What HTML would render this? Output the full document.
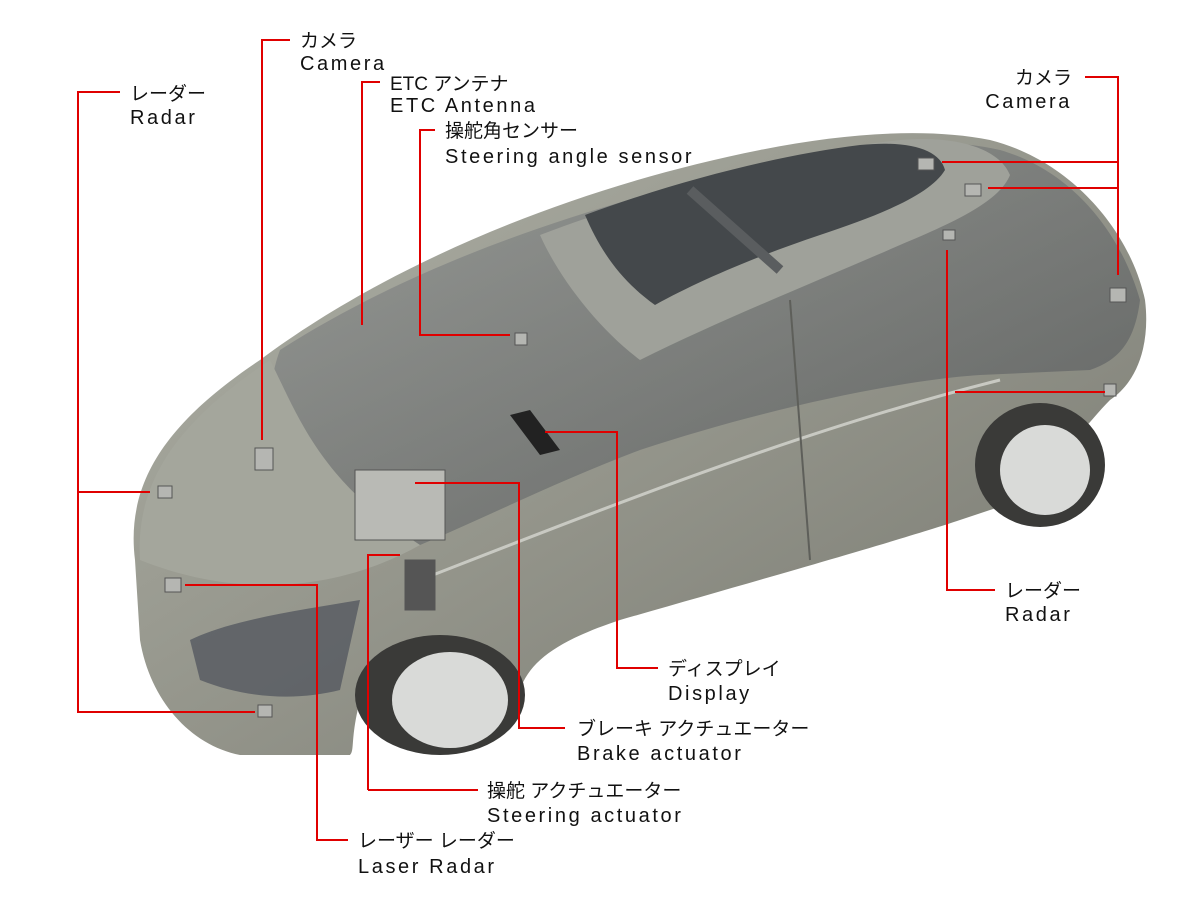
<!DOCTYPE html>
<html><head><meta charset="utf-8"><style>
body{margin:0;background:#fff;}
svg{display:block}
text{font-family:"Liberation Sans","Noto Sans CJK JP",sans-serif;font-size:20px;fill:#111;letter-spacing:2.6px}
text.j{letter-spacing:0px;font-size:19px}
</style></head><body>
<svg width="1200" height="900" viewBox="0 0 1200 900" xmlns="http://www.w3.org/2000/svg">
<defs>
<linearGradient id="body" x1="0" y1="0" x2="1" y2="1">
<stop offset="0" stop-color="#b0b2a8"/><stop offset="0.5" stop-color="#94958b"/><stop offset="1" stop-color="#76776f"/>
</linearGradient>
<linearGradient id="glass" x1="0" y1="0" x2="1" y2="1">
<stop offset="0" stop-color="#8f9291"/><stop offset="1" stop-color="#515456"/>
</linearGradient>
</defs>
<path d="M135,560 C125,480 170,420 260,360 C380,270 560,190 760,150 C850,132 930,128 990,140 C1070,160 1130,230 1145,300 C1150,340 1140,380 1110,400 C1090,420 1060,460 1020,500 L960,520 C900,540 760,580 620,620 C560,640 530,660 520,690 L360,700 C350,740 355,750 350,755 L240,755 C190,745 150,700 140,640 Z" fill="url(#body)"/>
<path d="M280,350 C420,260 600,200 790,160 C880,140 950,138 1000,150 C1070,170 1120,230 1140,300 C1135,340 1120,360 1090,370 L980,375 C900,380 760,410 640,450 C560,480 480,520 420,545 C370,520 320,490 290,470 C270,430 265,390 280,350 Z" fill="url(#glass)" opacity="0.7"/>
<path d="M540,235 C660,190 800,150 900,140 C960,135 1000,150 1010,175 C1000,200 960,220 900,245 C820,280 720,320 640,360 C600,330 560,280 540,235 Z" fill="#9fa19a"/>
<path d="M585,215 C680,180 780,155 860,145 C910,140 940,150 945,170 C930,195 880,215 820,235 C760,255 700,280 655,305 C620,280 600,250 585,215 Z" fill="#44484b"/>
<line x1="690" y1="190" x2="780" y2="270" stroke="#5a5d5f" stroke-width="10"/>
<path d="M140,560 C135,480 180,420 270,360 C300,420 320,480 420,545 C340,590 240,600 140,560 Z" fill="#a4a69c"/>
<path d="M190,640 C230,620 300,610 360,600 L340,690 C300,700 250,700 200,680 Z" fill="#555960" opacity="0.8"/>
<ellipse cx="440" cy="695" rx="85" ry="60" fill="#3a3a38"/>
<ellipse cx="450" cy="700" rx="58" ry="48" fill="#d9dad8"/>
<ellipse cx="1040" cy="465" rx="65" ry="62" fill="#3a3a38"/>
<ellipse cx="1045" cy="470" rx="45" ry="45" fill="#d9dad8"/>
<path d="M420,580 C600,510 800,430 1000,380" stroke="#c8c9c2" stroke-width="3" fill="none"/>
<path d="M790,300 L810,560" stroke="#5e5f5a" stroke-width="2" fill="none"/>
<polygon points="510,415 530,410 560,450 540,455" fill="#222"/>
<g fill="#b5b6b2" stroke="#555" stroke-width="1">
<rect x="158" y="486" width="14" height="12"/><rect x="165" y="578" width="16" height="14"/>
<rect x="255" y="448" width="18" height="22"/><rect x="258" y="705" width="14" height="12"/>
<rect x="918" y="158" width="16" height="12"/><rect x="965" y="184" width="16" height="12"/>
<rect x="943" y="230" width="12" height="10"/><rect x="1110" y="288" width="16" height="14"/>
<rect x="1104" y="384" width="12" height="12"/><rect x="515" y="333" width="12" height="12"/>
<rect x="355" y="470" width="90" height="70" fill="#b9bab5"/>
<rect x="405" y="560" width="30" height="50" fill="#555"/>
</g>
<g stroke="#e00000" stroke-width="2" fill="none">
<polyline points="120,92 78,92 78,712 255,712"/><line x1="78" y1="492" x2="150" y2="492"/>
<polyline points="290,40 262,40 262,440"/>
<polyline points="380,82 362,82 362,325"/>
<polyline points="435,130 420,130 420,335 510,335"/>
<polyline points="1085,77 1118,77 1118,275"/><line x1="942" y1="162" x2="1118" y2="162"/><line x1="988" y1="188" x2="1118" y2="188"/>
<polyline points="947,250 947,590 995,590"/><line x1="955" y1="392" x2="1105" y2="392"/>
<polyline points="545,432 617,432 617,668 658,668"/>
<polyline points="415,483 519,483 519,728 565,728"/>
<polyline points="368,790 368,555 400,555"/><line x1="368" y1="790" x2="478" y2="790"/>
<polyline points="185,585 317,585 317,840 348,840"/>
</g>
<text class="j" x="130" y="100">レーダー</text><text x="130" y="124">Radar</text>
<text class="j" x="300" y="47">カメラ</text><text x="300" y="70">Camera</text>
<text class="j" x="390" y="90">ETC アンテナ</text><text x="390" y="112">ETC Antenna</text>
<text class="j" x="445" y="137">操舵角センサー</text><text x="445" y="163">Steering angle sensor</text>
<text class="j" x="1072" y="84" text-anchor="end">カメラ</text><text x="1072" y="108" text-anchor="end">Camera</text>
<text class="j" x="1005" y="597">レーダー</text><text x="1005" y="621">Radar</text>
<text class="j" x="668" y="675">ディスプレイ</text><text x="668" y="700">Display</text>
<text class="j" x="577" y="735">ブレーキ アクチュエーター</text><text x="577" y="760">Brake actuator</text>
<text class="j" x="487" y="797">操舵 アクチュエーター</text><text x="487" y="822">Steering actuator</text>
<text class="j" x="358" y="847">レーザー レーダー</text><text x="358" y="873">Laser Radar</text>
</svg>
</body></html>
